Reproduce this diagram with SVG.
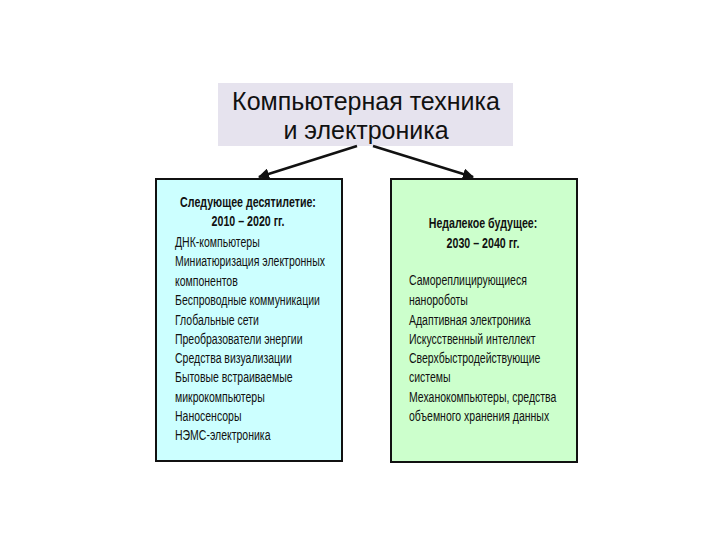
<svg xmlns="http://www.w3.org/2000/svg" width="720" height="540" viewBox="0 0 720 540">
<defs>
<style>
.title{font-family:"Liberation Sans",Arial,sans-serif;font-size:25px;fill:#111;text-anchor:middle}
.box{stroke:#111;stroke-width:2}
.h{font-family:"Liberation Sans",Arial,sans-serif;font-weight:bold;font-size:14px;fill:#111;text-anchor:middle}
.t{font-family:"Liberation Sans",Arial,sans-serif;font-size:14px;fill:#111}
.arr{stroke:#111;stroke-width:2.5;fill:none;marker-end:url(#ah)}
</style>
<marker id="ah" viewBox="0 0 10 10" refX="9" refY="5" markerWidth="4.5" markerHeight="4.5" orient="auto">
<path d="M0,0 L10,5 L0,10 z" fill="#111"/>
</marker>
</defs>
<rect width="720" height="540" fill="#fff"/>
<g id="title">
<rect x="218" y="83" width="295" height="63" fill="#e6e3ee"/>
<text class="title" x="366" y="110">Компьютерная техника</text>
<text class="title" x="366" y="139">и электроника</text>
</g>
<g id="connectors">
<line class="arr" x1="357" y1="146" x2="259" y2="177"/>
<line class="arr" x1="373" y1="146" x2="473" y2="177"/>
</g>
<g id="left">
<rect class="box" x="156" y="179" width="186" height="282" fill="#ccffff"/>
<g transform="matrix(0.76 0 0 1 248 0)">
<text class="h" x="0" y="207">Следующее десятилетие:</text>
<text class="h" x="0" y="226">2010 – 2020 гг.</text>
</g>
<g transform="matrix(0.75 0 0 1 175 0)">
<text class="t" x="0" y="247">ДНК-компьютеры</text>
<text class="t" x="0" y="266">Миниатюризация электронных</text>
<text class="t" x="0" y="286">компонентов</text>
<text class="t" x="0" y="305">Беспроводные коммуникации</text>
<text class="t" x="0" y="325">Глобальные сети</text>
<text class="t" x="0" y="344">Преобразователи энергии</text>
<text class="t" x="0" y="363">Средства визуализации</text>
<text class="t" x="0" y="382">Бытовые встраиваемые</text>
<text class="t" x="0" y="402">микрокомпьютеры</text>
<text class="t" x="0" y="421">Наносенсоры</text>
<text class="t" x="0" y="440">НЭМС-электроника</text>
</g>
</g>
<g id="right">
<rect class="box" x="391" y="179" width="186" height="283" fill="#ccffcc"/>
<g transform="matrix(0.76 0 0 1 483 0)">
<text class="h" x="0" y="228">Недалекое будущее:</text>
<text class="h" x="0" y="248">2030 – 2040 гг.</text>
</g>
<g transform="matrix(0.75 0 0 1 409 0)">
<text class="t" x="0" y="285">Самореплицирующиеся</text>
<text class="t" x="0" y="305">нанороботы</text>
<text class="t" x="0" y="325">Адаптивная электроника</text>
<text class="t" x="0" y="344">Искусственный интеллект</text>
<text class="t" x="0" y="363">Сверхбыстродействующие</text>
<text class="t" x="0" y="382">системы</text>
<text class="t" x="0" y="402">Механокомпьютеры, средства</text>
<text class="t" x="0" y="421">объемного хранения данных</text>
</g>
</g>
</svg>
